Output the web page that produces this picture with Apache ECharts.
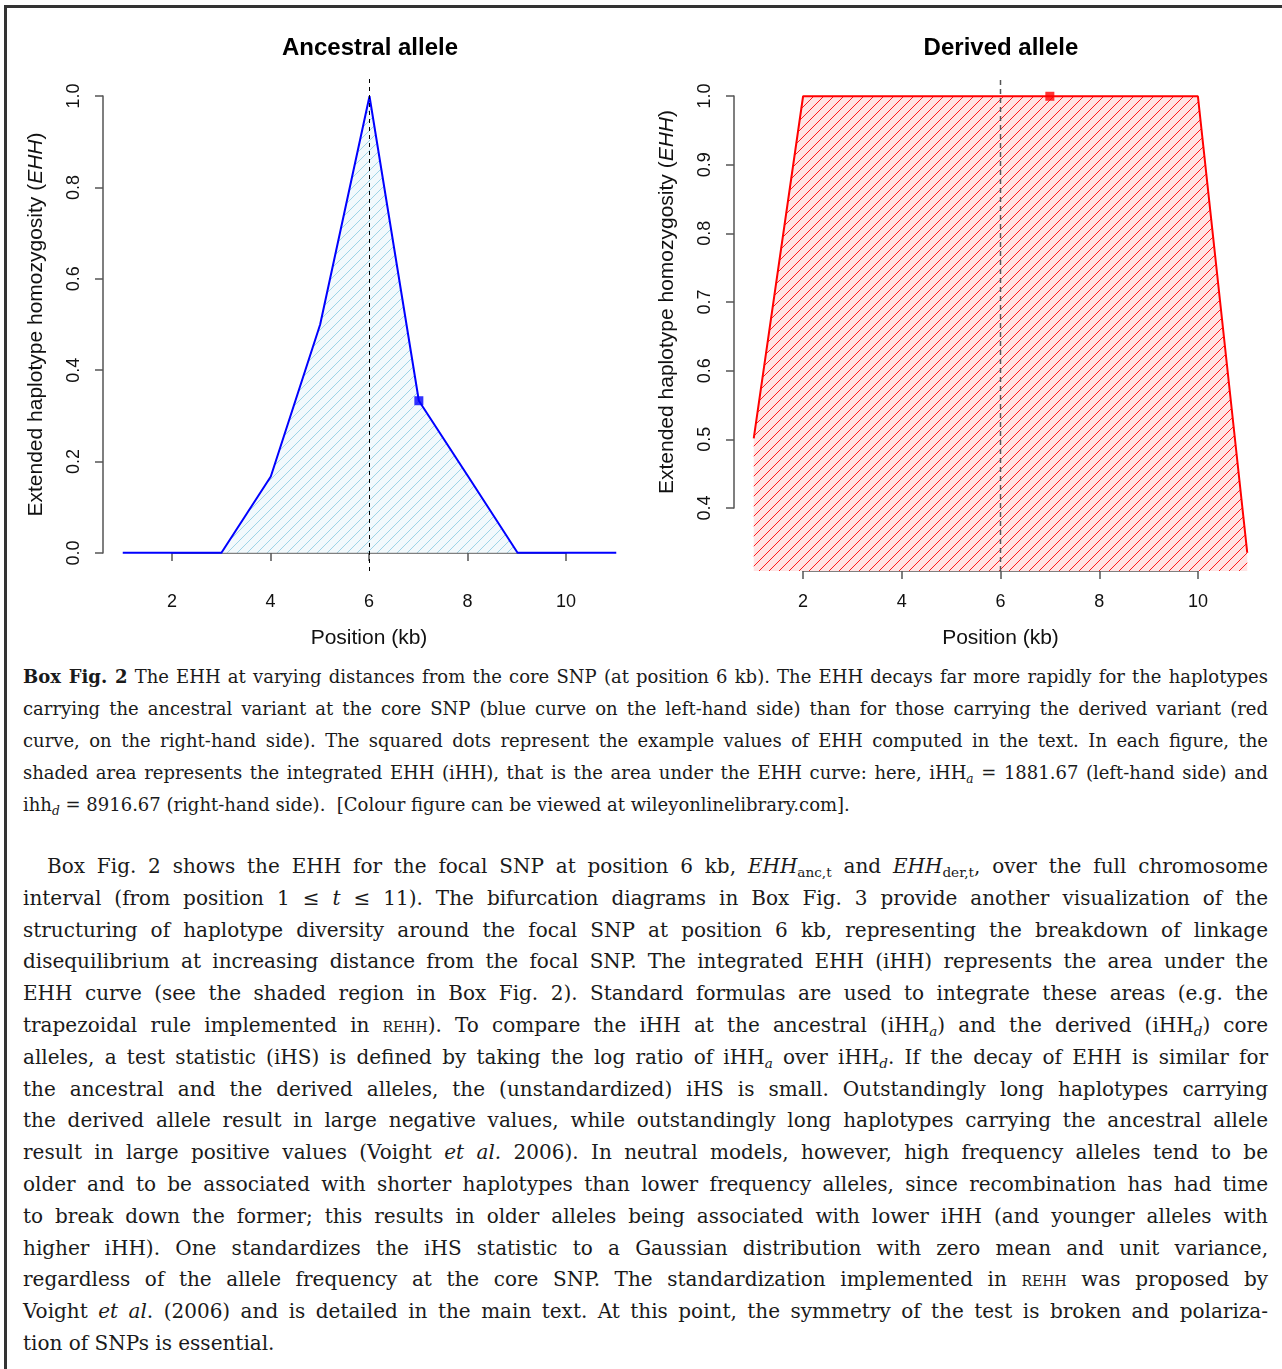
<!DOCTYPE html>
<html>
<head>
<meta charset="utf-8">
<script src="https://cdn.jsdelivr.net/npm/echarts@6/dist/echarts.min.js"></script>
<style>
  html, body { margin: 0; padding: 0; background: #fff; }
  body { width: 1282px; height: 1369px; position: relative; overflow: hidden; }
  #frame { position: absolute; left: 4px; top: 5px; width: 1290px; height: 1400px;
           border-left: 3px solid #333; border-top: 3px solid #333; }
  #chart { position: absolute; left: 0; top: 0; width: 1282px; height: 660px; }
  .text { position: absolute; left: 23px; width: 1245px; font-family: 'DejaVu Serif', serif; color: #1a1a1a; }
  .caption { top: 661px; font-size: 18px; line-height: 32px; }
  .body { top: 851px; font-size: 20px; line-height: 31.8px; }
  .j { text-align: justify; text-align-last: justify; }
  .indent { padding-left: 24px; }
  sub { font-size: 0.68em; line-height: 0; vertical-align: -0.3em; }
  .sc { font-variant: small-caps; }
</style>
</head>
<body>
<div id="frame"></div>
<div id="chart"></div>

<div class="text caption">
  <div class="j"><b>Box Fig. 2</b> The EHH at varying distances from the core SNP (at position 6 kb). The EHH decays far more rapidly for the haplotypes</div>
  <div class="j">carrying the ancestral variant at the core SNP (blue curve on the left-hand side) than for those carrying the derived variant (red</div>
  <div class="j">curve, on the right-hand side). The squared dots represent the example values of EHH computed in the text. In each figure, the</div>
  <div class="j">shaded area represents the integrated EHH (iHH), that is the area under the EHH curve: here, iHH<sub><i>a</i></sub> = 1881.67 (left-hand side) and</div>
  <div>ihh<sub><i>d</i></sub> = 8916.67 (right-hand side).&nbsp; [Colour figure can be viewed at wileyonlinelibrary.com].</div>
</div>

<div class="text body">
  <div class="j indent">Box Fig. 2 shows the EHH for the focal SNP at position 6 kb, <i>EHH</i><sub>anc,t</sub> and <i>EHH</i><sub>der,t</sub>, over the full chromosome</div>
  <div class="j">interval (from position 1 ≤ <i>t</i> ≤ 11). The bifurcation diagrams in Box Fig. 3 provide another visualization of the</div>
  <div class="j">structuring of haplotype diversity around the focal SNP at position 6 kb, representing the breakdown of linkage</div>
  <div class="j">disequilibrium at increasing distance from the focal SNP. The integrated EHH (iHH) represents the area under the</div>
  <div class="j">EHH curve (see the shaded region in Box Fig. 2). Standard formulas are used to integrate these areas (e.g. the</div>
  <div class="j">trapezoidal rule implemented in <span class="sc">rehh</span>). To compare the iHH at the ancestral (iHH<sub><i>a</i></sub>) and the derived (iHH<sub><i>d</i></sub>) core</div>
  <div class="j">alleles, a test statistic (iHS) is defined by taking the log ratio of iHH<sub><i>a</i></sub> over iHH<sub><i>d</i></sub>. If the decay of EHH is similar for</div>
  <div class="j">the ancestral and the derived alleles, the (unstandardized) iHS is small. Outstandingly long haplotypes carrying</div>
  <div class="j">the derived allele result in large negative values, while outstandingly long haplotypes carrying the ancestral allele</div>
  <div class="j">result in large positive values (Voight <i>et al.</i> 2006). In neutral models, however, high frequency alleles tend to be</div>
  <div class="j">older and to be associated with shorter haplotypes than lower frequency alleles, since recombination has had time</div>
  <div class="j">to break down the former; this results in older alleles being associated with lower iHH (and younger alleles with</div>
  <div class="j">higher iHH). One standardizes the iHS statistic to a Gaussian distribution with zero mean and unit variance,</div>
  <div class="j">regardless of the allele frequency at the core SNP. The standardization implemented in <span class="sc">rehh</span> was proposed by</div>
  <div class="j">Voight <i>et al</i>. (2006) and is detailed in the main text. At this point, the symmetry of the test is broken and polariza-</div>
  <div>tion of SNPs is essential.</div>
</div>

<script>
// positions along the chromosome (kb)
const positions = [1, 2, 3, 4, 5, 6, 7, 8, 9, 10, 11];
// EHH values
const ehhAncestral = [0, 0, 0, 0.167, 0.5, 1, 0.333, 0.167, 0, 0, 0];
const ehhDerived = [0.5, 1, 1, 1, 1, 1, 1, 1, 1, 1, 0.333];
// core SNP and the example squared dots
const corePosition = 6;
const exampleAncestral = [7, 0.333];
const exampleDerived = [7, 1];
// tick settings
const xTickMin = 2, xTickMax = 10, xTickStep = 2;
const ancTickMin = 0, ancTickMax = 1, ancTickStep = 0.2;
const derTickMin = 0.4, derTickMax = 1, derTickStep = 0.1;

const FONT = "'Liberation Sans', Arial, sans-serif";
const AXIS_COLOR = '#555';
const TEXT_COLOR = '#111';

// R style 4% padding of the data range
function padRange(values) {
    const lo = Math.min(...values), hi = Math.max(...values);
    const d = (hi - lo) * 0.04;
    return [lo - d, hi + d];
}

function hatch(bg, stroke, size, width) {
    const c = document.createElement('canvas');
    c.width = size;
    c.height = size;
    const ctx = c.getContext('2d');
    ctx.fillStyle = bg;
    ctx.fillRect(0, 0, size, size);
    ctx.strokeStyle = stroke;
    ctx.lineWidth = width;
    ctx.beginPath();
    ctx.moveTo(0, size); ctx.lineTo(size, 0);
    ctx.moveTo(-1, 1); ctx.lineTo(1, -1);
    ctx.moveTo(size - 1, size + 1); ctx.lineTo(size + 1, size - 1);
    ctx.stroke();
    return c;
}

const pairs = (ys) => positions.map((x, i) => [x, ys[i]]);

const xRange = padRange(positions);
const ancRange = padRange(ehhAncestral);
const derRange = padRange(ehhDerived);

// hidden axes for the plotting region
function hiddenAxis(gridIndex, range) {
    return {
        type: 'value', gridIndex: gridIndex, min: range[0], max: range[1],
        show: false, splitLine: { show: false }
    };
}

function xAxisFor(gridIndex, offset) {
    return {
        type: 'value', gridIndex: gridIndex,
        min: xTickMin, max: xTickMax, interval: xTickStep,
        position: 'bottom', offset: offset,
        name: 'Position (kb)', nameLocation: 'middle', nameGap: 57,
        nameTextStyle: { fontFamily: FONT, fontSize: 21, color: TEXT_COLOR },
        axisLine: { show: true, lineStyle: { color: AXIS_COLOR, width: 1.5 } },
        axisTick: { show: true, length: 8, lineStyle: { color: AXIS_COLOR, width: 1.5 } },
        axisLabel: { fontFamily: FONT, fontSize: 18, color: TEXT_COLOR, margin: 22 },
        splitLine: { show: false }
    };
}

function yAxisFor(gridIndex, min, max, step, offset) {
    return {
        type: 'value', gridIndex: gridIndex,
        min: min, max: max, interval: step,
        position: 'left', offset: offset,
        name: 'Extended haplotype homozygosity ({i|EHH})',
        nameLocation: 'middle', nameGap: 56,
        nameTextStyle: {
            fontFamily: FONT, fontSize: 21, color: TEXT_COLOR,
            rich: { i: { fontFamily: FONT, fontSize: 21, fontStyle: 'italic', color: TEXT_COLOR } }
        },
        axisLine: { show: true, lineStyle: { color: AXIS_COLOR, width: 1.5 } },
        axisTick: { show: true, length: 8, lineStyle: { color: AXIS_COLOR, width: 1.5 } },
        axisLabel: {
            fontFamily: FONT, fontSize: 18, color: TEXT_COLOR, rotate: 90, margin: 20,
            formatter: (v) => v.toFixed(1)
        },
        splitLine: { show: false }
    };
}

const chart = echarts.init(document.getElementById('chart'));

chart.setOption({
    backgroundColor: 'transparent',
    animation: false,
    graphic: [
        { type: 'text', x: 370, y: 48, style: { text: 'Ancestral allele', fontFamily: FONT, fontSize: 24, fontWeight: 'bold', fill: '#000', align: 'center', verticalAlign: 'middle' } },
        { type: 'text', x: 1001, y: 48, style: { text: 'Derived allele', fontFamily: FONT, fontSize: 24, fontWeight: 'bold', fill: '#000', align: 'center', verticalAlign: 'middle' } }
    ],
    grid: [
        // plotting regions
        { left: 103, width: 533, top: 78, height: 493, containLabel: false, outerBoundsMode: 'none' },
        { left: 734, width: 533, top: 78, height: 493, containLabel: false, outerBoundsMode: 'none' },
        // axis frames, spanning the tick range only
        { left: 172, width: 394, top: 96, height: 457, containLabel: false, outerBoundsMode: 'none' },
        { left: 803, width: 395, top: 96, height: 412, containLabel: false, outerBoundsMode: 'none' }
    ],
    xAxis: [
        hiddenAxis(0, xRange), hiddenAxis(1, xRange),
        xAxisFor(2, 18), xAxisFor(3, 63)
    ],
    yAxis: [
        hiddenAxis(0, ancRange), hiddenAxis(1, derRange),
        yAxisFor(2, ancTickMin, ancTickMax, ancTickStep, 69),
        yAxisFor(3, derTickMin, derTickMax, derTickStep, 69)
    ],
    series: [
        {
            type: 'line', xAxisIndex: 0, yAxisIndex: 0, z: 2,
            data: pairs(ehhAncestral), showSymbol: false, symbol: 'none',
            lineStyle: { color: '#0000ff', width: 2 },
            areaStyle: { color: { image: hatch('#f2f9fc', '#9fd3e6', 10, 1), repeat: 'repeat' }, opacity: 1, origin: 'auto' }
        },
        {
            type: 'line', xAxisIndex: 0, yAxisIndex: 0, z: 3,
            data: [[corePosition, ancRange[0]], [corePosition, ancRange[1]]], symbol: 'none',
            lineStyle: { color: '#000', width: 1, type: [4, 4] }
        },
        {
            type: 'scatter', xAxisIndex: 0, yAxisIndex: 0, z: 4,
            data: [exampleAncestral], symbol: 'rect', symbolSize: 9,
            itemStyle: { color: '#0000ff' }
        },
        {
            type: 'line', xAxisIndex: 1, yAxisIndex: 1, z: 2,
            data: pairs(ehhDerived), showSymbol: false, symbol: 'none',
            lineStyle: { color: '#ff0000', width: 2 },
            areaStyle: { color: { image: hatch('#ffe4e4', '#ff1a1a', 10, 1), repeat: 'repeat' }, opacity: 1, origin: 'start' }
        },
        {
            type: 'line', xAxisIndex: 1, yAxisIndex: 1, z: 3,
            data: [[corePosition, derRange[0]], [corePosition, derRange[1]]], symbol: 'none',
            lineStyle: { color: '#555', width: 1.5, type: [5, 4] }
        },
        {
            type: 'scatter', xAxisIndex: 1, yAxisIndex: 1, z: 4, clip: false,
            data: [exampleDerived], symbol: 'rect', symbolSize: 9,
            itemStyle: { color: '#ff0000' }
        }
    ]
});
</script>
</body>
</html>
